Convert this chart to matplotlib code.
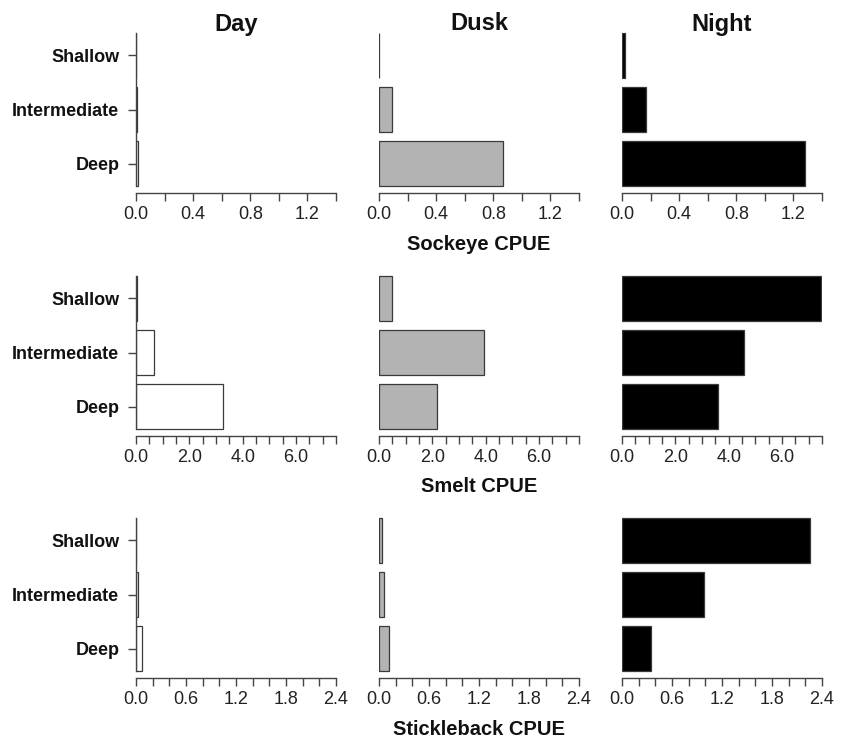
"""
CPUE by depth stratum and diel period for sockeye, smelt and stickleback.

Outputs:
    out.png -- 3 x 3 grid of horizontal bar charts (species x period)
"""

import matplotlib.pyplot as plt

plt.rcParams["font.family"] = ["Liberation Sans", "DejaVu Sans"]

# ── Data ──────────────────────────────────────────────────────────────────────

PERIODS = ["Day", "Dusk", "Night"]
DEPTHS = ["Deep", "Intermediate", "Shallow"]          # bottom -> top

SPECIES = ["Sockeye CPUE", "Smelt CPUE", "Stickleback CPUE"]

# values per period, ordered Deep, Intermediate, Shallow
sockeye_day   = [0.015, 0.004, 0.003]
sockeye_dusk  = [0.87, 0.09, 0.003]
sockeye_night = [1.28, 0.17, 0.02]

smelt_day   = [3.25, 0.69, 0.03]
smelt_dusk  = [2.17, 3.92, 0.50]
smelt_night = [3.59, 4.57, 7.48]

stickle_day   = [0.07, 0.025, 0.005]
stickle_dusk  = [0.115, 0.065, 0.03]
stickle_night = [0.345, 0.98, 2.26]

# x ticks and their labels per species row
sockeye_ticks  = [0.0, 0.2, 0.4, 0.6, 0.8, 1.0, 1.2, 1.4]
sockeye_labels = ["0.0", "", "0.4", "", "0.8", "", "1.2", ""]

smelt_ticks  = [0.0, 0.5, 1.0, 1.5, 2.0, 2.5, 3.0, 3.5,
                4.0, 4.5, 5.0, 5.5, 6.0, 6.5, 7.0, 7.5]
smelt_labels = ["0.0", "", "", "", "2.0", "", "", "",
                "4.0", "", "", "", "6.0", "", "", ""]

stickle_ticks  = [0.0, 0.2, 0.4, 0.6, 0.8, 1.0, 1.2,
                  1.4, 1.6, 1.8, 2.0, 2.2, 2.4]
stickle_labels = ["0.0", "", "", "0.6", "", "", "1.2",
                  "", "", "1.8", "", "", "2.4"]

ROWS = [
    ([sockeye_day, sockeye_dusk, sockeye_night], sockeye_ticks, sockeye_labels),
    ([smelt_day, smelt_dusk, smelt_night],       smelt_ticks,   smelt_labels),
    ([stickle_day, stickle_dusk, stickle_night], stickle_ticks, stickle_labels),
]

# ── Style / layout ────────────────────────────────────────────────────────────

FILLS = ["white", "#b3b3b3", "black"]
EDGE = "#3a3a3a"
AXC = "#444444"

W, H = 848, 738
COL_X = [136, 379, 622]          # left of each column, px
COL_W = 200
ROW_BOT = [193, 436, 678]        # x-axis line, px from top
ROW_H = 176

BAR_POS = [0.7, 1.9, 3.1]        # R barplot style positions
YLIM = (0.056, 3.944)

fig = plt.figure(figsize=(W / 100, H / 100), dpi=100)
fig.patch.set_facecolor("white")

for r, (vals, ticks, labels) in enumerate(ROWS):
    for c in range(3):
        ax = fig.add_axes([COL_X[c] / W, 1 - ROW_BOT[r] / H, COL_W / W, ROW_H / H])
        ax.barh(BAR_POS, vals[c], height=1.0, color=FILLS[c],
                edgecolor=EDGE, linewidth=0.9)
        ax.set_xlim(ticks[0], ticks[-1])
        ax.set_ylim(*YLIM)

        ax.spines[["top", "right"]].set_visible(False)
        ax.spines["bottom"].set_color(AXC)
        ax.spines["bottom"].set_linewidth(1.0)
        ax.spines["bottom"].set_position(("data", YLIM[0]))

        ax.set_xticks(ticks)
        ax.set_xticklabels(labels)
        ax.tick_params(axis="x", length=5.5, width=1.0, color=AXC, pad=4,
                       labelsize=13, labelcolor="#222")

        if c == 0:
            ax.spines["left"].set_color(AXC)
            ax.spines["left"].set_linewidth(1.0)
            ax.spines["left"].set_bounds(0.2, 3.6)
            ax.set_yticks(BAR_POS)
            ax.set_yticklabels(DEPTHS, fontweight="bold")
            ax.tick_params(axis="y", length=6, width=1.0, color=AXC, pad=6,
                           labelsize=13, labelcolor="#111")
        else:
            ax.spines["left"].set_visible(False)
            ax.set_yticks([])

# Column titles
for c, name in enumerate(PERIODS):
    fig.text((COL_X[c] + COL_W / 2) / W, 1 - 30.5 / H, name,
             ha="center", va="baseline", fontsize=17, fontweight="bold",
             color="#111")

# Species labels under the middle column
LABEL_BASE = [250, 492, 735]
for r, name in enumerate(SPECIES):
    fig.text((COL_X[1] + COL_W / 2) / W, 1 - LABEL_BASE[r] / H, name,
             ha="center", va="baseline", fontsize=14.5, fontweight="bold",
             color="#111")

fig.savefig("out.png", dpi=100, facecolor="white")
print("Saved out.png")
